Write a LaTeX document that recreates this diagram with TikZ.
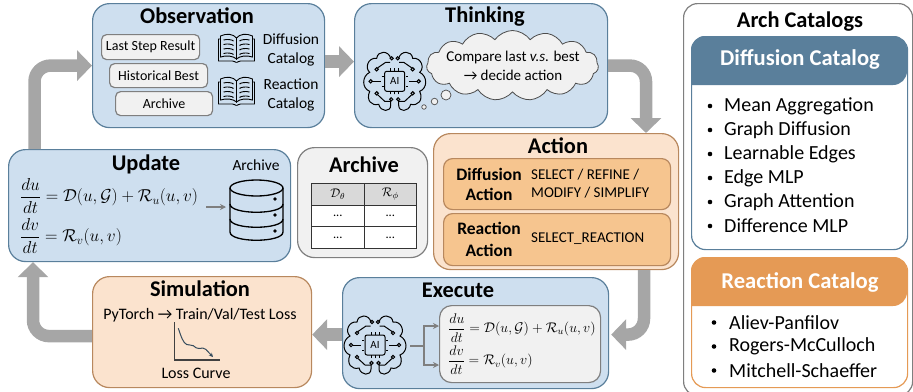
\documentclass[tikz,border=0pt]{standalone}
\usepackage{fix-cm}
\usepackage{amsmath}
\usepackage{fontspec}
\setmainfont{Carlito}
\usetikzlibrary{arrows.meta,shapes.symbols}
\newcommand{\fs}[1]{\fontsize{#1}{#1}\selectfont}
\definecolor{bluefill}{HTML}{CEDFEF}
\definecolor{blueline}{HTML}{5A7F9B}
\definecolor{orfill}{HTML}{FBE3CE}
\definecolor{orline}{HTML}{B8885E}
\definecolor{orin}{HTML}{F6C58F}
\definecolor{grfill}{HTML}{F1F1F1}
\definecolor{grline}{HTML}{7F7F7F}
\definecolor{flowc}{HTML}{A6A6A6}
\definecolor{orhead}{HTML}{E59A55}
\tikzset{
  x=1pt,y=-1pt,
  box/.style={anchor=north west,draw,line width=1.2pt,inner sep=0pt,rounded corners=#1},
  box/.default=17pt,
  bluebox/.style={box,fill=bluefill,draw=blueline},
  orbox/.style={box,fill=orfill,draw=orline},
  grbox/.style={box,fill=grfill,draw=grline},
  title/.style={inner sep=0pt,font=\fs{22.4}\bfseries},
  lbl/.style={inner sep=0pt,font=\fs{15.5},align=center},
  subhead/.style={inner sep=0pt,font=\fs{17.5}\bfseries,align=center},
  cmd/.style={inner sep=0pt,font=\fs{15},anchor=west},
  item/.style={inner sep=0pt,font=\fs{20},anchor=west},
  dotb/.style={inner sep=0pt,circle,fill=black,minimum size=4.6pt},
  flow/.style={draw=flowc,line width=12.5pt,rounded corners=16pt,-{Triangle[length=15pt,width=30pt]}},
  thin arrow/.style={draw=grline,line width=1.5pt,-{Stealth[length=6pt,width=6pt]}},
  cell/.style={anchor=north west,draw=black!80,line width=1pt,inner sep=0pt,minimum width=52.5pt,minimum height=21.7pt,font=\fs{12.5}},
  aibrain/.pic={
    \begin{scope}[line width=1pt,draw=black,rounded corners=0pt]
    \foreach \s in {1,-1}{
      \begin{scope}[xscale=\s]
      \draw (-4,-23) .. controls (-6,-31) and (-17,-31) .. (-18,-23)
        .. controls (-27,-24) and (-30,-13) .. (-25,-9)
        .. controls (-33,-5) and (-33,7) .. (-25,10)
        .. controls (-29,19) and (-23,25) .. (-16,23)
        .. controls (-14,31) and (-4,31) .. (-4,24) -- (-4,19);
      \draw (-24,0) circle (1.7);
      \draw (-22.3,0) -- (-14,0);
      \draw (-18,-12) circle (1.7);
      \draw (-17,-13.5) -- (-9,-19) -- (-4.5,-19);
      \draw (-3,-23) circle (1.6);
      \draw (-18,12) circle (1.7);
      \draw (-17,13.5) -- (-10,20) -- (-4,20);
      \draw (-3.5,18) circle (1.6);
      \draw (-13,-5) -- (-11,-5) (-13,5) -- (-11,5);
      \draw (-4,-13) -- (-4,-10) (-4,13) -- (-4,10) (0,-13) -- (0,-10) (0,13) -- (0,10);
      \end{scope}}
    \draw[rounded corners=2pt] (-10,-10) rectangle (10,10);
    \end{scope}
    \node[inner sep=0pt,font=\fs{11}] (-ai) at (0,0) {AI};
  },
  bookicon/.pic={
    \begin{scope}[line width=0.9pt,draw=black]
    \foreach \s in {1,-1}{
      \begin{scope}[xscale=\s]
      \draw (-16,-12) .. controls (-10,-15) and (-3,-14) .. (0,-10) -- (0,11)
        .. controls (-3,8) and (-10,7) .. (-16,9) -- cycle;
      \draw (-16,-9) -- (-18,-9) -- (-18,13) -- (-4,13) .. controls (-2,13) and (-1,14.5) .. (0,14.5);
      \foreach \d in {-7,-2.5,2,6.5}{
        \draw (-13,\d-1) .. controls (-9,\d-2) and (-5,\d-1.5) .. (-3,\d);}
      \end{scope}}
    \end{scope}
  }
}
\begin{document}
\begin{tikzpicture}
\useasboundingbox (0,0) rectangle (913,391);
% main panels
\node[bluebox,minimum width=232pt,minimum height=124pt] (obs) at (92,3) {};
\node[bluebox,minimum width=253pt,minimum height=124pt] (thk) at (354,3) {};
\node[bluebox,minimum width=282pt,minimum height=112pt] (upd) at (8,149) {};
\node[grbox,minimum width=130pt,minimum height=110pt] (arc) at (297,147) {};
\node[orbox,minimum width=245pt,minimum height=136pt] (act) at (433,133) {};
\node[orbox,minimum width=219pt,minimum height=111pt] (sim) at (92,276) {};
\node[bluebox,minimum width=266pt,minimum height=111pt] (exe) at (342,277) {};
% titles
\node[title] (tobs) at (197,16) {Observation};
\node[title] (tthk) at (485,17) {Thinking};
\node[title] (tupd) at (146,164) {Update};
\node[title] (tarc) at (364,165) {Archive};
\node[title] (tact) at (558,146) {Action};
\node[title] (tsim) at (200,289) {Simulation};
\node[title] (texe) at (458,290) {Execute};
% flow arrows
\draw[flow] ([xshift=26.5pt]upd.north west) |- (obs.west);
\draw[flow] ([yshift=4pt]obs.east) -- ([yshift=4pt]thk.west);
\draw[flow] (thk.east) -| ([xshift=213pt]act.north west);
\draw[flow] ([xshift=211pt]act.south west) |- ([xshift=2pt,yshift=-1.5pt]exe.east);
\draw[flow] ([yshift=-1.5pt]exe.west) -- ([yshift=-2.5pt]sim.east);
\draw[flow] ([yshift=-4pt]sim.west) -| ([xshift=25pt]upd.south west);
% observation content
\node[grbox,box=5pt,minimum width=98pt,minimum height=25pt,font=\fs{14}] (o1) at (101,34) {Last Step Result};
\node[grbox,box=5pt,minimum width=98pt,minimum height=24pt,font=\fs{14}] (o2) at (109,63) {Historical Best};
\node[grbox,box=5pt,minimum width=97pt,minimum height=24pt,font=\fs{14}] (o3) at (115,91) {Archive};
\pic (b1) at (236.5,48) {bookicon};
\pic (b2) at (236.5,91) {bookicon};
\node[lbl] (c1) at (291,50) {Diffusion\\[3pt]Catalog};
\node[lbl] (c2) at (291,95) {Reaction\\[3pt]Catalog};
% thinking content
\pic (br1) at (394.7,81.3) {aibrain};
\node[cloud,cloud puffs=15,cloud puff arc=110,aspect=2.5,draw=black!70,line width=0.8pt,fill=grfill,minimum width=172pt,minimum height=70pt,inner sep=0pt] (cld) at (512.5,65.5) {};
\node[lbl,font=\fs{15}] (cldt) at (513,65.5) {Compare last \textit{v.s.} best\\[4pt]→ decide action};
\node[circle,draw=black!70,line width=0.7pt,fill=grfill,minimum size=10pt,inner sep=0pt] (p1) at (446,95) {};
\node[circle,draw=black!70,line width=0.7pt,fill=grfill,minimum size=6.5pt,inner sep=0pt] (p2) at (434.5,101.5) {};
\node[circle,draw=black!70,line width=0.7pt,fill=grfill,minimum size=4.5pt,inner sep=0pt] (p3) at (424,107) {};
% update content
\node[inner sep=0pt,anchor=west,font=\fs{17.3}] (eq1) at (20,196) {$\dfrac{du}{dt}=\mathcal{D}(u,\mathcal{G})+\mathcal{R}_u(u,v)$};
\node[inner sep=0pt,anchor=west,font=\fs{17.3}] (eq2) at (20,236) {$\dfrac{dv}{dt}=\mathcal{R}_v(u,v)$};
\node[lbl,font=\fs{15.5}] (alb) at (256,165) {Archive};
\coordinate (dbs) at (206,207);
\coordinate (dbt) at (226,207);
\draw[thin arrow] (dbs) -- (dbt);
\begin{scope}[line width=1.3pt,draw=black]
\draw (230,188) -- (230,232) .. controls (230,243) and (283,243) .. (283,232) -- (283,188);
\draw (256.5,188) ellipse [x radius=26.5,y radius=8];
\draw (230,204) .. controls (230,215) and (283,215) .. (283,204);
\draw (230,219) .. controls (230,230) and (283,230) .. (283,219);
\end{scope}
\node[dotb,minimum size=3.6pt] (d1) at (275,199) {};
\node[dotb,minimum size=3.6pt] (d2) at (275,215) {};
\node[dotb,minimum size=3.6pt] (d3) at (275,231) {};
% archive table
\node[cell,fill=black!15] (h1) at (311,183) {$\mathcal{D}_\theta$};
\node[cell,fill=black!15] (h2) at (363.5,183) {$\mathcal{R}_\phi$};
\node[cell,fill=white] (r1) at (311,204.7) {...};
\node[cell,fill=white] (r2) at (363.5,204.7) {...};
\node[cell,fill=white] (r3) at (311,226.4) {...};
\node[cell,fill=white] (r4) at (363.5,226.4) {...};
% action content
\node[box=9pt,fill=orin,draw=orline,minimum width=227pt,minimum height=51pt] (ad) at (443,158) {};
\node[box=9pt,fill=orin,draw=orline,minimum width=227pt,minimum height=52pt] (ar) at (443,213) {};
\node[subhead] (ad1) at (489,174) {Diffusion};
\node[subhead] (ad2) at (489,194.5) {Action};
\node[subhead] (ar1) at (489,228) {Reaction};
\node[subhead] (ar2) at (489,250) {Action};
\node[cmd] (ac1) at (531,174.5) {SELECT / REFINE /};
\node[cmd] (ac2) at (531,192.5) {MODIFY / SIMPLIFY};
\node[cmd] (ac3) at (531,239) {SELECT\_REACTION};
% simulation content
\node[lbl,font=\fs{16}] (st) at (200,315) {PyTorch → Train/Val/Test Loss};
\node[lbl,font=\fs{16}] (sl) at (196,373) {Loss Curve};
\coordinate (ax0) at (174.5,322);
\coordinate (ax1) at (174.5,360);
\coordinate (ax2) at (220,360);
\draw[black!75,line width=1.2pt] (ax0) -- (ax1) -- (ax2);
\draw[draw=blueline!60!black,line width=1pt,-{Stealth[length=4pt,width=4pt]}] (178.3,328.3) .. controls (181,336) and (183,343) .. (186.7,344.5) .. controls (189,345.5) and (191,344.5) .. (193.3,345.7) .. controls (195.5,347) and (196.5,349) .. (199,348.5) .. controls (202,348) and (204,347.5) .. (206,349.5) -- (213,357);
% execute content
\pic (br2) at (375,345) {aibrain};
\node[grbox,box=12pt,minimum width=161pt,minimum height=77pt] (eqb) at (439,305) {};
\coordinate (ej) at (424,346);
\coordinate (e0) at (410,346);
\coordinate (e1) at (439,326);
\coordinate (e2) at (439,365);
\draw[draw=grline,line width=1.5pt] (e0) -- (ej);
\draw[thin arrow] (ej) |- (e1);
\draw[thin arrow] (ej) |- (e2);
\node[inner sep=0pt,anchor=west,font=\fs{14}] (eq3) at (448,344) {$\begin{array}{@{}l@{}}\dfrac{du}{dt}=\mathcal{D}(u,\mathcal{G})+\mathcal{R}_u(u,v)\\[9pt]\dfrac{dv}{dt}=\mathcal{R}_v(u,v)\end{array}$};
% catalogs
\node[box=14pt,fill=white,draw=grline,minimum width=229pt,minimum height=392pt] (cat) at (683,3) {};
\node[title] (tcat) at (800,22) {Arch Catalogs};
\node[box=14pt,fill=white,draw=blueline,minimum width=216pt,minimum height=213pt] (dc) at (691,36) {};
\node[box=14pt,fill=white,draw=orhead,minimum width=216pt,minimum height=130pt] (rc) at (691,257) {};
\path[fill=blueline,rounded corners=14pt] (691,85) -- (691,36) -- (907,36) -- (907,85) [sharp corners] -- cycle;
\path[fill=orhead,rounded corners=14pt] (691,306) -- (691,257) -- (907,257) -- (907,306) [sharp corners] -- cycle;
\node[title,text=white,font=\fs{22.6}\bfseries] (dch) at (800,59) {Diffusion Catalog};
\node[title,text=white,font=\fs{22.6}\bfseries] (rch) at (800,282) {Reaction Catalog};
\foreach \t/\y/\n in {Mean Aggregation/106/a,Graph Diffusion/130/b,Learnable Edges/154/c,Edge MLP/178/d,Graph Attention/202/e,Difference MLP/226/f}{
  \node[dotb] (dot\n) at (710,\y) {};
  \node[item] (it\n) at (724,\y) {\t};
}
\foreach \t/\y/\n in {Aliev-Panfilov/322.5/g,Rogers-McCulloch/346.5/h,Mitchell-Schaeffer/370.5/i}{
  \node[dotb] (dot\n) at (714,\y) {};
  \node[item] (it\n) at (729,\y) {\t};
}
\end{tikzpicture}
\end{document}
